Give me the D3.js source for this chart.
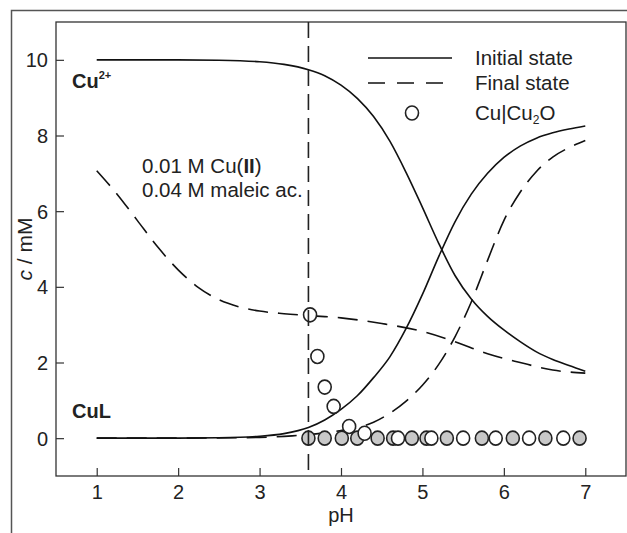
<!DOCTYPE html>
<html>
<head>
<meta charset="utf-8">
<script src="https://cdn.jsdelivr.net/npm/d3@7"></script>
<style>
  body { margin: 0; background: #fff; }
  svg text { font-family: "Liberation Sans", Arial, sans-serif; fill: #222; }
</style>
</head>
<body>
<div id="chart"></div>
<script>
// values
const pHInitial = [1, 2, 2.5, 3, 3.3, 3.6, 3.8, 4.0, 4.2, 4.4, 4.6, 4.8, 5.0, 5.2, 5.4, 5.6, 5.8, 6.0, 6.2, 6.4, 6.6, 6.8, 7.0];
const cuInitial = [10, 10, 9.99, 9.95, 9.88, 9.74, 9.58, 9.33, 8.98, 8.5, 7.85, 7.02, 6.1, 5.15, 4.3, 3.68, 3.22, 2.86, 2.55, 2.28, 2.08, 1.92, 1.77];
const culInitial = [0, 0, 0.01, 0.05, 0.12, 0.28, 0.48, 0.76, 1.12, 1.6, 2.15, 2.9, 3.8, 4.8, 5.72, 6.45, 7.0, 7.42, 7.72, 7.93, 8.07, 8.17, 8.25];

const pHFinalCu = [1, 1.25, 1.5, 1.75, 2.0, 2.25, 2.5, 2.75, 3.0, 3.3, 3.6, 4.0, 4.5, 5.0, 5.4, 5.8, 6.2, 6.6, 7.0];
const cuFinal = [7.07, 6.45, 5.75, 5.05, 4.45, 3.98, 3.66, 3.47, 3.36, 3.29, 3.24, 3.18, 3.03, 2.82, 2.55, 2.23, 2.0, 1.8, 1.72];

const pHFinalCuL = [1, 2, 3, 3.4, 3.8, 4.0, 4.2, 4.4, 4.6, 4.8, 5.0, 5.2, 5.4, 5.6, 5.8, 6.0, 6.2, 6.4, 6.6, 6.8, 7.0];
const culFinal = [0, 0, 0.02, 0.06, 0.14, 0.2, 0.28, 0.42, 0.66, 0.98, 1.4, 1.95, 2.68, 3.6, 4.7, 5.75, 6.5, 7.05, 7.43, 7.68, 7.87];

const pHOpen = [3.62, 3.71, 3.80, 3.91, 4.10, 4.29, 4.70, 5.11, 5.50, 5.90, 6.31, 6.73];
const cOpen = [3.26, 2.16, 1.35, 0.84, 0.31, 0.13, 0, 0, 0, 0, 0, 0];
const pHGray = [3.60, 3.80, 4.01, 4.20, 4.45, 4.64, 4.87, 5.05, 5.30, 5.73, 6.11, 6.51, 6.93];
const cGray = [0, 0, 0, 0, 0, 0, 0, 0, 0, 0, 0, 0, 0];

const pHMarker = 3.6;
const xTicks = [1, 2, 3, 4, 5, 6, 7];
const yTicks = [0, 2, 4, 6, 8, 10];

const width = 627,
      height = 533,
      margin = {left: 56, top: 22, right: 1, bottom: 57};

const svg = d3.select('#chart')
              .append('svg')
              .attr('width', width)
              .attr('height', height);

const x = d3.scaleLinear()
            .domain([0.5, 7.5])
            .range([margin.left, width - margin.right]);

const y = d3.scaleLinear()
            .domain([-1, 11])
            .range([height - margin.bottom, margin.top]);

// outer frame
svg.append('path')
   .attr('d', 'M11.5,533V10.5H627')
   .attr('fill', 'none')
   .attr('stroke', '#555')
   .attr('stroke-width', 1.5);

// axes, ticks pointing inwards
const xAxis = d3.axisBottom(x).tickValues(xTicks).tickFormat(d3.format('d')).tickSize(-8).tickPadding(9);
const yAxis = d3.axisLeft(y).tickValues(yTicks).tickFormat(d3.format('d')).tickSize(-8).tickPadding(8);

svg.append('g')
   .attr('transform', 'translate(0,' + y.range()[0] + ')')
   .call(xAxis)
   .call(g => g.select('.domain').remove())
   .call(g => g.selectAll('line').attr('stroke', '#333').attr('stroke-width', 1.2))
   .call(g => g.selectAll('text').attr('font-size', 20).attr('fill', '#222'));

svg.append('g')
   .attr('transform', 'translate(' + x.range()[0] + ',0)')
   .call(yAxis)
   .call(g => g.select('.domain').remove())
   .call(g => g.selectAll('line').attr('stroke', '#333').attr('stroke-width', 1.2))
   .call(g => g.selectAll('text').attr('font-size', 20).attr('fill', '#222').attr('dy', '0.35em'));

svg.append('rect')
   .attr('x', x.range()[0])
   .attr('y', y.range()[1])
   .attr('width', x.range()[1] - x.range()[0])
   .attr('height', y.range()[0] - y.range()[1])
   .attr('fill', 'none')
   .attr('stroke', '#333')
   .attr('stroke-width', 1.3);

// axis titles
svg.append('text')
   .attr('x', (x.range()[0] + x.range()[1]) / 2)
   .attr('y', 522)
   .attr('text-anchor', 'middle')
   .attr('font-size', 20)
   .text('pH');

const yTitle = svg.append('text')
   .attr('transform', 'translate(32,' + (y.range()[0] + y.range()[1]) / 2 + ') rotate(-90)')
   .attr('text-anchor', 'middle')
   .attr('font-size', 21);
yTitle.append('tspan').attr('font-style', 'italic').text('c');
yTitle.append('tspan').text(' / mM');

// curves
const line = d3.line()
               .x(d => x(d[0]))
               .y(d => y(d[1]))
               .curve(d3.curveMonotoneX);

const curves = [
  {px: pHInitial, cy: cuInitial, dash: null},
  {px: pHInitial, cy: culInitial, dash: null},
  {px: pHFinalCu, cy: cuFinal, dash: '20,10'},
  {px: pHFinalCuL, cy: culFinal, dash: '20,10'}
];

curves.forEach(function(c) {
  svg.append('path')
     .datum(c.px.map((p, i) => [p, c.cy[i]]))
     .attr('d', line)
     .attr('fill', 'none')
     .attr('stroke', '#111')
     .attr('stroke-width', 1.6)
     .attr('stroke-dasharray', c.dash);
});

// markers
svg.selectAll('.gray')
   .data(pHGray.map((p, i) => [p, cGray[i]]))
   .enter()
   .append('ellipse')
   .attr('cx', d => x(d[0]))
   .attr('cy', d => y(d[1]))
   .attr('rx', 6.5)
   .attr('ry', 7)
   .attr('fill', '#c8c8c8')
   .attr('stroke', '#222')
   .attr('stroke-width', 1.6);

svg.selectAll('.open')
   .data(pHOpen.map((p, i) => [p, cOpen[i]]))
   .enter()
   .append('ellipse')
   .attr('cx', d => x(d[0]))
   .attr('cy', d => y(d[1]))
   .attr('rx', 6.5)
   .attr('ry', 7)
   .attr('fill', '#fff')
   .attr('stroke', '#222')
   .attr('stroke-width', 1.6);

// vertical dashed marker line
svg.append('line')
   .attr('x1', x(pHMarker))
   .attr('x2', x(pHMarker))
   .attr('y1', y.range()[1])
   .attr('y2', y.range()[0])
   .attr('stroke', '#222')
   .attr('stroke-width', 1.6)
   .attr('stroke-dasharray', '16,8');

// labels
const cu = svg.append('text')
              .attr('x', 72)
              .attr('y', 88)
              .attr('font-size', 20)
              .attr('font-weight', 'bold');
cu.append('tspan').text('Cu');
cu.append('tspan').attr('font-size', 11).attr('dy', -9).text('2+');

svg.append('text')
   .attr('x', 72)
   .attr('y', 418)
   .attr('font-size', 20)
   .attr('font-weight', 'bold')
   .text('CuL');

const note1 = svg.append('text')
                 .attr('x', 142)
                 .attr('y', 173)
                 .attr('font-size', 20.5);
note1.append('tspan').text('0.01 M Cu(');
note1.append('tspan').attr('font-weight', 'bold').text('II');
note1.append('tspan').text(')');

svg.append('text')
   .attr('x', 142)
   .attr('y', 197)
   .attr('font-size', 20.5)
   .text('0.04 M maleic ac.');

// legend
const legend = svg.append('g');

legend.append('line')
      .attr('x1', 368).attr('x2', 452)
      .attr('y1', 58).attr('y2', 58)
      .attr('stroke', '#111')
      .attr('stroke-width', 1.6);

legend.append('line')
      .attr('x1', 368).attr('x2', 452)
      .attr('y1', 83).attr('y2', 83)
      .attr('stroke', '#111')
      .attr('stroke-width', 1.6)
      .attr('stroke-dasharray', '17,12');

legend.append('ellipse')
      .attr('cx', 412).attr('cy', 113)
      .attr('rx', 6.5).attr('ry', 7)
      .attr('fill', '#fff')
      .attr('stroke', '#222')
      .attr('stroke-width', 1.6);

legend.append('text').attr('x', 475).attr('y', 65).attr('font-size', 20.5).text('Initial state');
legend.append('text').attr('x', 475).attr('y', 90).attr('font-size', 20.5).text('Final state');

const lg3 = legend.append('text').attr('x', 475).attr('y', 120).attr('font-size', 20.5);
lg3.append('tspan').text('Cu|Cu');
lg3.append('tspan').attr('font-size', 12).attr('dy', 4).text('2');
lg3.append('tspan').attr('dy', -4).text('O');
</script>
</body>
</html>
